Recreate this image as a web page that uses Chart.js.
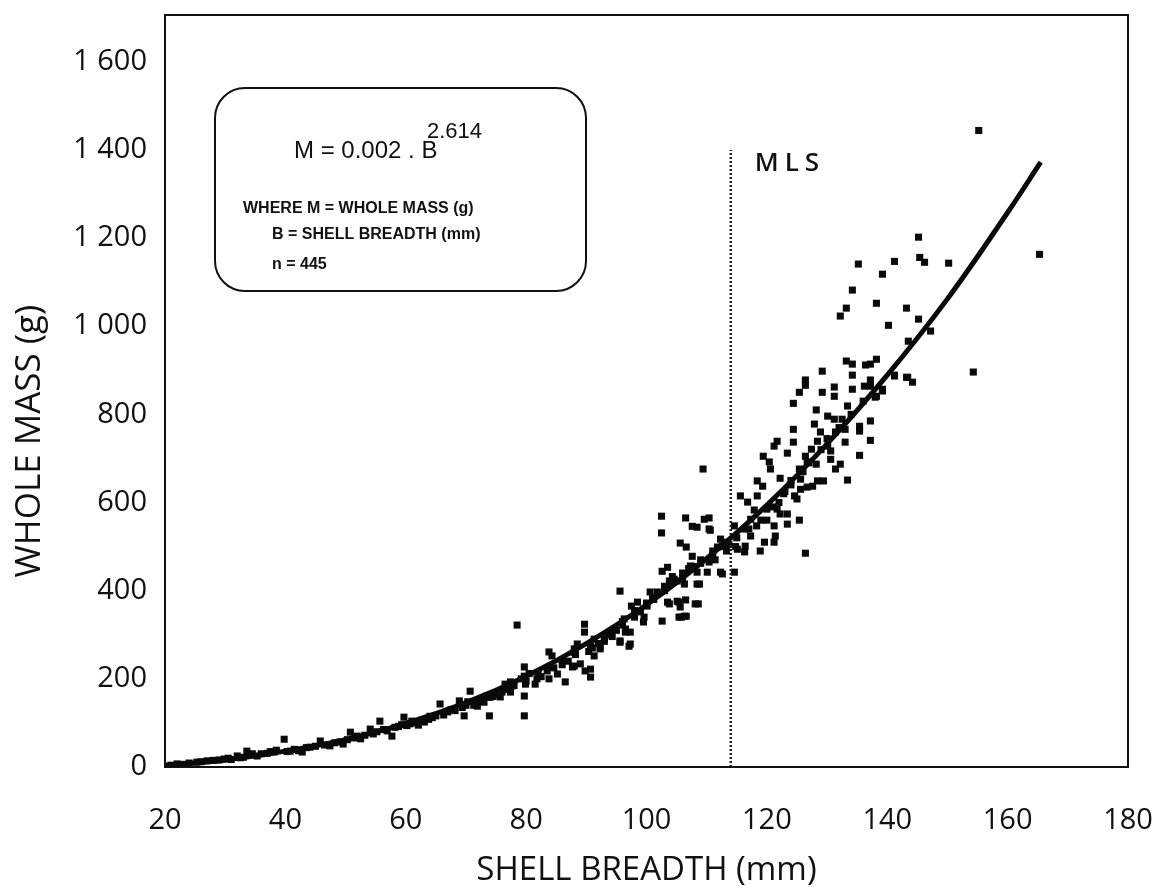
<!DOCTYPE html>
<html>
<head>
<meta charset="utf-8">
<title>Whole mass vs shell breadth</title>
<script src="https://cdn.jsdelivr.net/npm/chart.js@4.4.1/dist/chart.umd.min.js"></script>
<style>
  html, body { margin: 0; padding: 0; background: #fff; }
  #wrap { width: 1162px; height: 893px; }
</style>
</head>
<body>
<div id="wrap"><canvas id="massChart" width="1162" height="893"></canvas></div>
<script>
// tick labels
const xTicks = [20, 40, 60, 80, 100, 120, 140, 160, 180];
const yTicks = [0, 200, 400, 600, 800, 1000, 1200, 1400, 1600];

// observed animals: [shell breadth (mm), whole mass (g)]
const pointsUnder60 = [
  [21,4],[22,7],[23,6],[24,9],[25.3,11],[26,12],[27,14],[28,15],[29,16],[29.8,18],
  [30.5,20],[31,17],[32,25],[32.5,21],[33,22],[33.6,36],[34,28],[34.5,30],[35.3,25],[36,30],
  [37,31],[37.5,35],[38.1,34],[38.5,38],[39.8,63],[40.3,35],[40.8,36],[41.5,40],[42.2,37],[42.8,34],
  [43.5,44],[44.1,45],[45,47],[45.8,59],[46.5,50],[47.4,48],[48.2,55],[49.1,57],[49.6,52],[50.3,62],
  [50.8,79],[51.5,66],[51.9,70],[52.5,64],[53.2,72],[54.1,86],[54.6,75],[55.2,80],[55.7,104],[56.3,85],
  [56.9,82],[57.7,70],[58.2,90],[58.8,92],[59.3,96],[59.7,113]
];
const points60to90 = [
  [60.2,94],[60.7,98],[61,104],[61.4,100],[62.1,95],[62.6,106],[63.1,102],[63.8,108],[64,115],[64.4,112],
  [65,116],[65.7,143],[66.3,118],[66.9,125],[67,126],[67.5,130],[68.2,128],[68.9,150],[69.4,135],[69.7,116],
  [70,140],[70.3,148],[70.7,172],[71.3,140],[71.9,138],[72,150],[72.5,150],[73,147],[73.5,161],[73.9,116],
  [74,158],[74.5,160],[75.2,165],[75.7,159],[76,170],[76.5,188],[77,176],[77.4,170],[77.4,193],[77.7,184],
  [78,185],[78.5,322],[79.2,200],[79.7,227],[79.7,206],[79.9,188],[79.7,161],[79.7,116],[80,195],[80.5,212],
  [81.5,188],[81.8,200],[82,210],[82.5,205],[83.5,218],[83.8,200],[83.8,261],[84,228],[84.3,252],[84.6,225],
  [85.2,211],[86,232],[86,242],[86.5,193],[87,240],[87.7,227],[88,229],[88,260],[88,268],[88.5,279],
  [88.2,255],[89,234],[89.7,324],[89.7,306],[89.8,218]
];
const points90to114 = [
  [90.4,262],[90.7,222],[90.7,204],[90.7,274],[91,270],[91.3,252],[91.3,290],[92,280],[92.3,272],[92.3,268],
  [93,285],[93,290],[93.6,300],[94,305],[94.3,296],[95,310],[95.6,399],[95.6,286],[95.6,283],[96,322],
  [96,330],[96.3,336],[96.5,313],[96.5,306],[97.1,274],[97.3,306],[97.3,279],[97.5,365],[98,340],[98,355],
  [98.5,374],[99,352],[99.5,329],[99.6,340],[100,372],[100.1,365],[100.6,397],[101,385],[101.2,380],[101.8,397],
  [102.5,569],[102.5,531],[102.6,444],[102.6,331],[103,400],[103,410],[103.5,453],[103.5,374],[103.8,422],[103.8,370],
  [104,415],[104.3,432],[104.6,426],[105.1,422],[105.1,376],[105.4,340],[105.4,374],[105.6,508],[105.6,363],[105.8,340],
  [106,430],[106,440],[106.3,415],[106.3,342],[106.5,565],[106.5,379],[106.6,499],[106.6,342],[107,450],[107.3,456],
  [107.6,478],[107.6,546],[108,455],[108.1,370],[108.4,544],[108.4,442],[108.4,415],[108.6,370],[108.8,415],[109,462],
  [109,470],[109.4,676],[109.6,562],[110.1,442],[110.4,565],[110.4,540],[110.4,465],[110.6,537],[111,480],[111,490],
  [111.4,470],[111.8,499],[112.3,517],[112.3,442],[112.6,501],[112.6,438],[112.9,510],[113,500],[113.3,490],[113.7,505]
];
const pointsAboveMLS = [
  [114.6,547],[114.6,442],[114.8,500],[115,520],[115.1,494],[115.6,615],[116.3,540],[116.3,488],[116.4,501],[116.8,601],
  [117,540],[117.3,562],[117.3,524],[117.9,583],[118.3,547],[118.4,649],[118.4,615],[118.9,490],[119,560],[119.3,637],
  [119.4,705],[119.6,510],[120,560],[120,585],[120.4,692],[120.6,676],[121,590],[121.2,728],[121.2,547],[121.2,510],
  [121.4,524],[121.7,739],[121.7,585],[122,600],[122.2,655],[122.2,574],[122.8,620],[123,625],[123.4,712],[123.4,574],
  [123.4,551],[124,640],[124,650],[124.4,825],[124.4,766],[124.4,737],[124.6,615],[125,608],[125.4,850],[125.4,676],
  [125.4,560],[125.6,653],[125.6,630],[126,670],[126.4,878],[126.4,866],[126.4,705],[126.4,485],[126.7,692],[126.7,635],
  [127,690],[127.4,721],[127.6,637],[127.9,778],[128.2,810],[128.2,687],[128.4,739],[128.4,649],[128.9,760],[129,720],
  [129.2,898],[129.2,850],[129.4,649],[130,745],[130.1,796],[130.1,728],[130.6,717],[130.6,698],[131.2,862],[131.2,841],
  [131.2,789],[131.4,760],[131.4,676],[132,770],[132.2,1023],[132.2,687],[132.5,789],[133,766],[133,737],[133.2,1041],
  [133.2,921],[133.4,819],[133.4,651],[134,800],[134.2,1082],[134.2,914],[134.2,889],[134.2,857],[135.2,1141],[135.4,773],
  [135.4,762],[135.4,707],[136,830],[136.2,864],[136.4,912],[137.2,914],[137.2,878],[137.2,864],[137.2,785],[137.2,741],
  [138,839],[138.2,1052],[138.2,925],[138.2,841],[139.2,1118],[139.2,857],[139.2,853],[140.2,1002],[141.2,1147],[141.2,889],
  [141.2,887],[143.2,1041],[143.2,884],[143.4,884],[143.5,966],[144.2,873],[145.2,1202],[145.2,1016],[145.4,1156],[146.2,1145],
  [147.2,989],[150.2,1143],[154.3,896],[155.2,1444],[165.3,1163]
];

// fitted curve
const fitBreadth = [20, 30, 40, 50, 60, 70, 80, 90, 100, 110, 120, 130, 140, 150, 160, 165.5];
const fitMass    = [4, 16, 36, 62, 99, 146, 206, 280, 368, 473, 594, 733, 889, 1062, 1258, 1372];

// minimum legal size marker
const mlsBreadth = [114, 114];
const mlsMass    = [0, 1400];

const fmtThousands = v => String(v).replace(/\B(?=(\d{3})+(?!\d))/g, ' ');

// frame round the plot + equation box + MLS label
const decorPlugin = {
  id: 'decor',
  afterDraw(chart) {
    const { ctx, chartArea: a, scales } = chart;
    ctx.save();
    ctx.strokeStyle = '#111';
    ctx.lineWidth = 2;
    ctx.strokeRect(a.left, a.top, a.right - a.left, a.bottom - a.top);

    // equation box
    const bx = a.left + 50, by = a.top + 73;
    ctx.beginPath();
    ctx.roundRect(bx, by, 371, 203, 30);
    ctx.stroke();

    ctx.fillStyle = '#111';
    ctx.textBaseline = 'alphabetic';
    ctx.font = '24px "Liberation Sans", Arial, sans-serif';
    ctx.fillText('M = 0.002 . B', bx + 79, by + 70);
    ctx.font = '22px "Liberation Sans", Arial, sans-serif';
    ctx.fillText('2.614', bx + 212, by + 50);

    ctx.font = 'bold 16px "Liberation Sans", Arial, sans-serif';
    ctx.fillText('WHERE M = WHOLE MASS (g)', bx + 28, by + 125);
    ctx.fillText('B = SHELL BREADTH (mm)', bx + 57, by + 151);
    ctx.fillText('n = 445', bx + 57, by + 181);

    // MLS label
    const mx = scales.x.getPixelForValue(mlsBreadth[1]);
    const my = scales.y.getPixelForValue(mlsMass[1]);
    ctx.font = '600 26px "Open Sans", sans-serif';
    ctx.letterSpacing = '6px';
    ctx.fillText('MLS', mx + 24, my + 21);
    ctx.restore();
  }
};

const tickFont = { family: 'Open Sans', size: 29 };

new Chart(document.getElementById('massChart'), {
  type: 'scatter',
  data: {
    datasets: [
      {
        label: 'Fitted curve',
        data: fitBreadth.map((b, i) => ({ x: b, y: fitMass[i] })),
        showLine: true,
        borderColor: '#0a0a0a',
        borderWidth: 5,
        tension: 0.4,
        pointRadius: 0,
        fill: false,
      },
      {
        label: 'MLS',
        data: mlsBreadth.map((b, i) => ({ x: b, y: mlsMass[i] })),
        showLine: true,
        borderColor: '#222',
        borderWidth: 2.5,
        borderDash: [2, 2],
        pointRadius: 0,
        fill: false,
      },
      {
        label: 'Whole mass',
        data: [...pointsUnder60, ...points60to90, ...points90to114, ...pointsAboveMLS]
          .map(([b, m]) => ({ x: b, y: m })),
        pointStyle: 'rect',
        pointRadius: 5,
        pointBorderWidth: 0,
        backgroundColor: '#0a0a0a',
        borderColor: '#0a0a0a',
      }
    ]
  },
  options: {
    responsive: false,
    animation: false,
    layout: { padding: { top: 15, right: 34, bottom: 0, left: 0 } },
    plugins: {
      legend: { display: false },
      tooltip: { enabled: false },
    },
    scales: {
      x: {
        type: 'linear',
        min: 20,
        max: 180,
        afterBuildTicks: s => { s.ticks = xTicks.map(v => ({ value: v })); },
        afterFit: s => { s.height = 126; s.paddingLeft = 0; s.paddingRight = 0; },
        grid: { display: false, drawTicks: false },
        border: { display: false },
        ticks: { font: tickFont, color: '#111', padding: 36, maxRotation: 0 },
        title: {
          display: true,
          text: 'SHELL BREADTH (mm)',
          font: { family: 'Open Sans', size: 33 },
          color: '#111',
          padding: { top: 0, bottom: 3 },
        },
      },
      y: {
        type: 'linear',
        min: 0,
        max: 1706,
        afterBuildTicks: s => { s.ticks = yTicks.map(v => ({ value: v })); },
        afterFit: s => { s.width = 165; s.paddingTop = 0; s.paddingBottom = 0; },
        grid: { display: false, drawTicks: false },
        border: { display: false },
        ticks: { font: tickFont, color: '#111', padding: 18, callback: v => fmtThousands(v) },
        title: {
          display: true,
          // trailing spaces push the visible words down, as in the original
          text: 'WHOLE MASS (g)           ',
          font: { family: 'Open Sans', size: 35 },
          color: '#111',
          padding: { top: 9, bottom: 0 },
        },
      }
    }
  },
  plugins: [decorPlugin]
});
</script>
</body>
</html>
